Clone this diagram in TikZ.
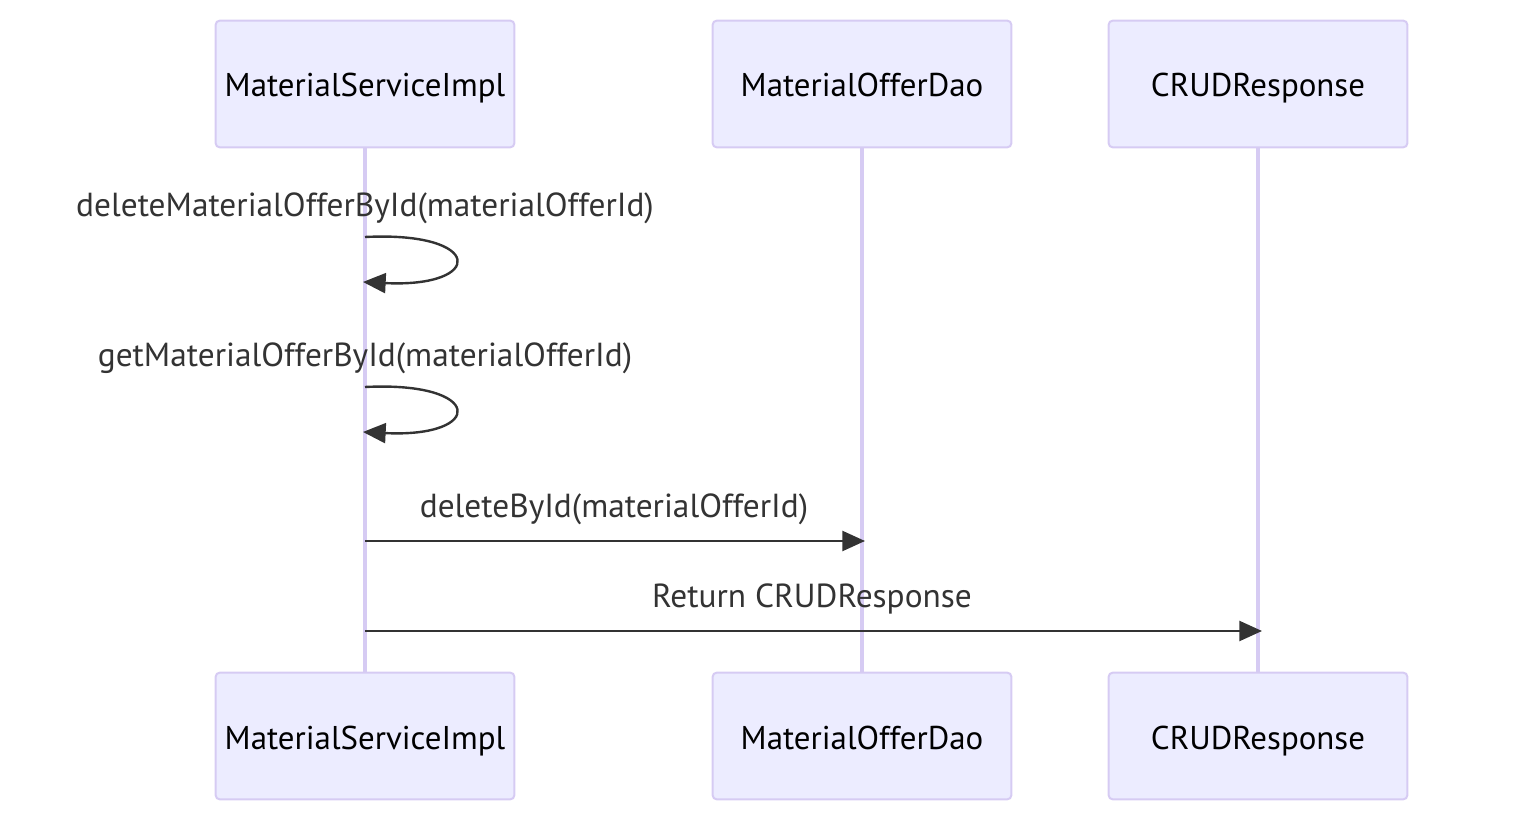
\documentclass[tikz,border=0pt]{standalone}
\usepackage{fontspec}
\setmainfont{PT Sans}
\usetikzlibrary{positioning, arrows.meta}
\definecolor{actorFill}{HTML}{ECECFF}
\definecolor{actorLine}{HTML}{D6CBF3}
\colorlet{msgColor}{black!80}
\tikzstyle{actor}=[draw=actorLine, line width=1.5pt, fill=actorFill, rounded corners=3pt,
  minimum width=224pt, minimum height=95pt, text height=22pt, text depth=2.5pt,
  font=\fontsize{24.7}{28}\selectfont, text=black]
\tikzstyle{lifeline}=[draw=actorLine, line width=3pt]
\tikzstyle{msg}=[->, draw=msgColor, line width=1.8pt, >={Triangle[length=17pt,width=15pt]}]
\tikzstyle{msgLabel}=[text=msgColor, anchor=base, font=\fontsize{25}{29}\selectfont]

\begin{document}
\begin{tikzpicture}[x=0.75pt, y=-0.75pt]
      \useasboundingbox (0,0) rectangle (1522,830);
      % actors, top and bottom
      \node (implTop) [actor] at (365,84) {MaterialServiceImpl};
      \node (daoTop) [actor] at (862,84) {MaterialOfferDao};
      \node (respTop) [actor] at (1258,84) {CRUDResponse};
      \node (implBot) [actor] at (365,736) {MaterialServiceImpl};
      \node (daoBot) [actor] at (862,736) {MaterialOfferDao};
      \node (respBot) [actor] at (1258,736) {CRUDResponse};
      % lifelines
      \draw [lifeline] (implTop.south) -- (implBot.north);
      \draw [lifeline] (daoTop.south) -- (daoBot.north);
      \draw [lifeline] (respTop.south) -- (respBot.north);
      % messages
      \coordinate (d1a) at (365,237);
      \coordinate (d1b) at (363,282);
      \coordinate (g1a) at (365,387);
      \coordinate (g1b) at (363,432);
      \coordinate (m3a) at (365,541);
      \coordinate (m3b) at (865,541);
      \coordinate (m4a) at (365,631);
      \coordinate (m4b) at (1262,631);
      \node (lbl1) [msgLabel] at (365,217) {deleteMaterialOfferById(materialOfferId)};
      \node (lbl2) [msgLabel] at (365,367) {getMaterialOfferById(materialOfferId)};
      \node (lbl3) [msgLabel] at (614,518) {deleteById(materialOfferId)};
      \node (lbl4) [msgLabel] at (812,608) {Return CRUDResponse};
      \draw [msg] (d1a) .. controls (485,231) and (485,288) .. (d1b);
      \draw [msg] (g1a) .. controls (485,381) and (485,438) .. (g1b);
      \draw [msg] (m3a) -- (m3b);
      \draw [msg] (m4a) -- (m4b);
    \end{tikzpicture}
\end{document}
